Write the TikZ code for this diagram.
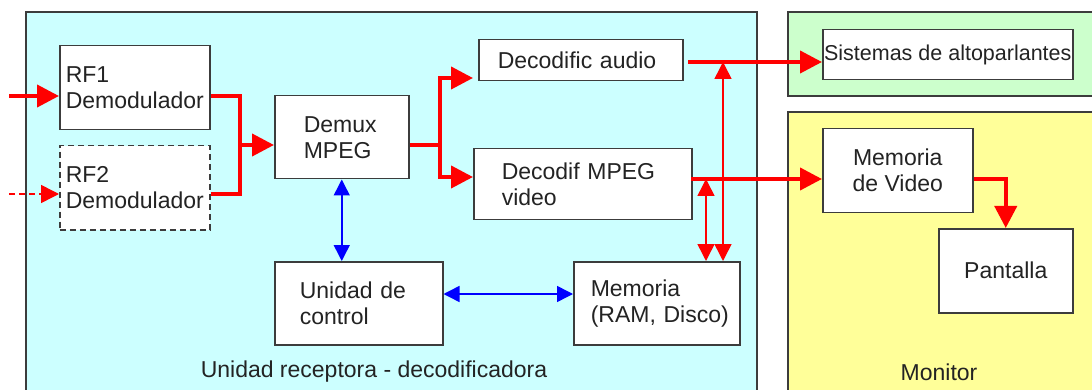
\documentclass[tikz,border=0pt]{standalone}
\usepackage{fontspec}
\setmainfont{Liberation Sans}
\usetikzlibrary{arrows.meta}
\definecolor{rxcyan}{RGB}{204,255,255}
\definecolor{spkgreen}{RGB}{204,255,204}
\definecolor{monyellow}{RGB}{255,255,153}
\definecolor{edge}{RGB}{60,60,60}
\definecolor{ink}{RGB}{35,35,35}
\begin{document}
\begin{tikzpicture}[x=1pt,y=-1pt,
  font=\fontsize{23}{26}\selectfont, text=ink,
  region/.style={draw=edge, line width=1.5pt},
  box/.style={draw=edge, fill=white, line width=1.5pt, anchor=north west,
    inner ysep=0pt, align=left},
  cbox/.style={box, align=center, inner xsep=0pt},
  redline/.style={red, line width=4pt},
  bigarrow/.style={redline, -{Triangle[length=22pt,width=22pt]}},
  dasharrow/.style={red, line width=1.5pt, dashed, dash pattern=on 6pt off 4pt,
    -{Triangle[length=18pt,width=18pt]}},
  thinboth/.style={red, line width=1.5pt,
    {Triangle[length=17pt,width=17pt]}-{Triangle[length=17pt,width=17pt]}},
  blueboth/.style={blue, line width=1.5pt,
    {Triangle[length=16pt,width=16pt]}-{Triangle[length=16pt,width=16pt]}}]

\useasboundingbox (0,0) rectangle (1092,390);
\clip (0,0) rectangle (1092,390);

% enclosing units
\draw[region, fill=rxcyan] (26,12) rectangle (757,420);
\draw[region, fill=spkgreen] (788,12) rectangle (1110,96);
\draw[region, fill=monyellow] (788,112) rectangle (1110,420);

\node[anchor=base] (lblrx) at (374,377) {Unidad receptora - decodificadora};
\node[anchor=base] (lblmon) at (939,380) {Monitor};

% blocks
\node[box, minimum width=150pt, minimum height=84pt, inner xsep=6pt, text width=138pt]
  (rf1) at (59,45) {RF1\\Demodulador};
\node[box, dashed, dash pattern=on 6pt off 4pt, minimum width=150pt, minimum height=84pt,
  inner xsep=6pt, text width=138pt] (rf2) at (59,145) {RF2\\Demodulador};
\node[box, minimum width=134pt, minimum height=83pt, inner xsep=29pt, text width=76pt]
  (demux) at (274,95) {Demux\\MPEG};
\node[box, minimum width=204pt, minimum height=41pt, inner xsep=19pt, text width=166pt]
  (aud) at (478,39) {Decodific audio};
\node[box, minimum width=218pt, minimum height=71pt, inner xsep=28pt, text width=162pt]
  (vid) at (473,148) {Decodif MPEG\\video};
\node[box, minimum width=168pt, minimum height=83pt, inner xsep=25pt, text width=118pt]
  (ctl) at (274,261) {Unidad de\\control};
\node[box, minimum width=166pt, minimum height=83pt, inner xsep=17pt, text width=132pt]
  (mem) at (573,261) {Memoria\\\mbox{(RAM, Disco)}};
\node[cbox, minimum width=250pt, minimum height=50pt, font=\fontsize{21.5}{26}\selectfont]
  (spk) at (822,29) {Sistemas de altoparlantes};
\node[cbox, minimum width=150pt, minimum height=84pt] (mv) at (822,128)
  {Memoria\\de Video};
\node[cbox, minimum width=134pt, minimum height=84pt] (pan) at (938,228) {Pantalla};

% signal levels and junctions
\coordinate (in1) at (9,96);
\coordinate (in2) at (9,194);
\coordinate (j1) at (240,145);
\coordinate (j2) at (440,145);
\coordinate (ya) at (0,78);
\coordinate (yv) at (0,177);
\coordinate (a1) at (688,62);
\coordinate (v1) at (691,179);
\coordinate (t1) at (723,62);
\coordinate (t2) at (706,179);
\coordinate (b1) at (442,294);

% inputs and tuner merge
\draw[bigarrow] (in1) -- (in1 -| rf1.west);
\draw[dasharrow] (in2) -- (in2 -| rf2.west);
\draw[redline] (in1 -| rf1.east) -| (in2 -| j1) -- (in2 -| rf2.east);
\draw[bigarrow] (j1) -- (j1 -| demux.west);

% demultiplexer outputs
\draw[redline] (j1 -| demux.east) -- (j2);
\draw[bigarrow] (j2) |- (ya -| vid.west);
\draw[bigarrow] (j2) |- (yv -| vid.west);

% decoder outputs
\draw[bigarrow] (a1) -- (a1 -| spk.west);
\draw[bigarrow] (v1) -- (v1 -| mv.west);
\draw[bigarrow] (v1 -| mv.east) -| (pan.north);

% memory buses
\draw[thinboth] (t1) -- (t1 |- mem.north);
\draw[thinboth] (t2) -- (t2 |- mem.north);

% control buses
\draw[blueboth] (demux.south) -- (demux.south |- ctl.north);
\draw[blueboth] (b1 -| ctl.east) -- (b1 -| mem.west);
\end{tikzpicture}
\end{document}
